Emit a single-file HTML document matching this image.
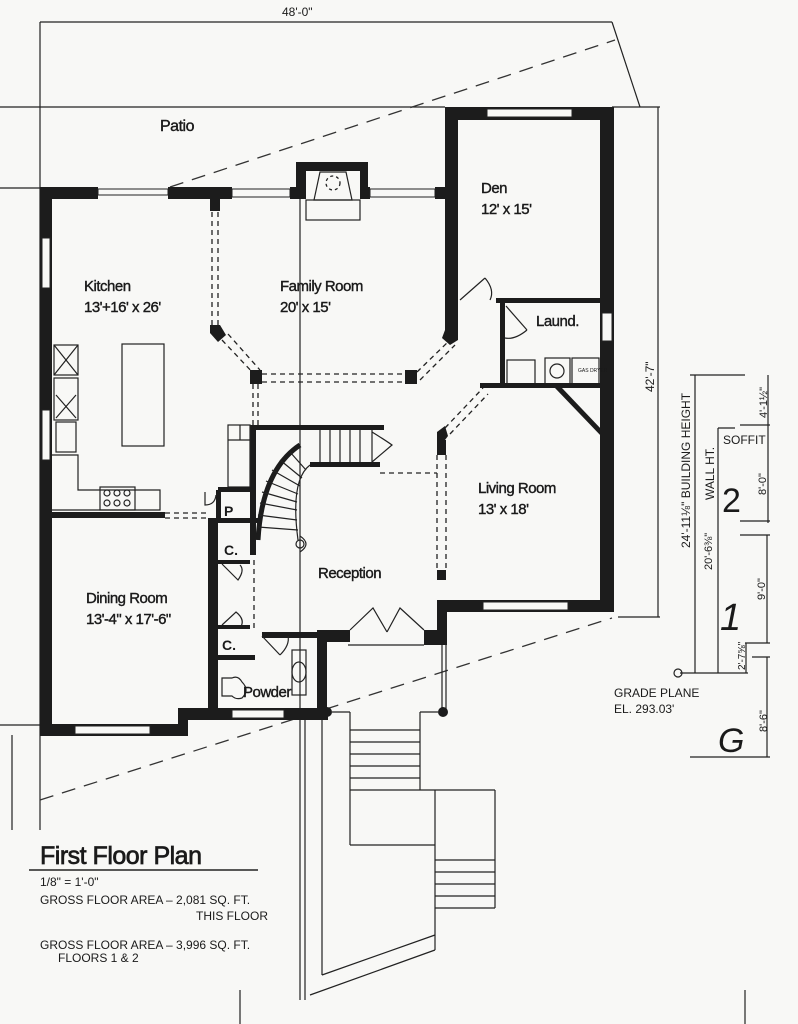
<!DOCTYPE html>
<html><head><meta charset="utf-8"><style>
html,body{margin:0;padding:0;background:#f8f8f6;}
svg{display:block;}
text{font-family:"Liberation Sans",Arial,sans-serif;fill:#1a1a1a;}
.w{fill:#1c1c1c;}
.l{stroke:#222;stroke-width:1.2;fill:none;}
.d{stroke:#222;stroke-width:1.3;fill:none;stroke-dasharray:5,4;}
.dl{stroke:#333;stroke-width:1.3;fill:none;stroke-dasharray:14,9;}
.win{fill:#f8f8f6;stroke:#222;stroke-width:1;}
.r{font-size:15px;letter-spacing:-0.5px;stroke:#1a1a1a;stroke-width:0.4;}
.s{font-size:12px;}
</style></head><body>
<svg width="798" height="1024" viewBox="0 0 798 1024">
<rect width="798" height="1024" fill="#f8f8f6"/>
<line class="l" x1="40" y1="22" x2="612" y2="22"/>
<text x="282" y="16" class="s">48'-0"</text>
<line class="l" x1="40" y1="22" x2="40" y2="830"/>
<line class="l" x1="612" y1="22" x2="640" y2="107"/>
<line class="l" x1="0" y1="107" x2="445" y2="107"/>
<line class="l" x1="0" y1="188" x2="40" y2="188"/>
<line class="l" x1="0" y1="725" x2="40" y2="725"/>
<line class="l" x1="12" y1="735" x2="12" y2="830"/>
<line class="dl" x1="170" y1="187" x2="615" y2="40"/>
<line class="dl" x1="40" y1="800" x2="612" y2="618"/>
<line class="l" x1="612" y1="107" x2="660" y2="107"/>
<line class="l" x1="658" y1="107" x2="658" y2="617"/>
<line class="l" x1="618" y1="617" x2="660" y2="617"/>
<text transform="translate(654,392) rotate(-90)" class="s">42'-7"</text>
<line class="l" x1="300" y1="199" x2="300" y2="1000"/>

<rect class="w" x="40" y="187" width="12" height="548"/>
<rect class="w" x="40" y="187" width="58" height="12"/>
<rect class="win" x="98" y="189" width="70" height="6"/>
<rect class="w" x="168" y="187" width="64" height="12"/>
<rect class="win" x="232" y="189" width="58" height="8"/>
<rect class="w" x="290" y="187" width="10" height="12"/>
<rect class="w" x="296" y="162" width="72" height="37"/>
<rect fill="#f8f8f6" x="306" y="171" width="54" height="28"/>
<polygon class="l" points="320,172 346,172 352,200 314,200"/>
<circle class="d" cx="333" cy="183" r="7" style="stroke-dasharray:3,3"/>
<rect class="l" x="306" y="200" width="54" height="20"/>
<rect class="w" x="360" y="187" width="10" height="12"/>
<rect class="win" x="370" y="189" width="65" height="8"/>
<rect class="w" x="435" y="187" width="12" height="12"/>
<rect class="w" x="445" y="107" width="13" height="190"/>
<rect class="w" x="445" y="107" width="169" height="13"/>
<rect class="win" x="487" y="109" width="85" height="8"/>
<rect class="w" x="600" y="107" width="14" height="505"/>
<rect class="win" x="602" y="313" width="10" height="28"/>
<line class="l" x1="460" y1="300" x2="485" y2="278"/>
<path class="l" d="M485,278 Q495,290 490,300"/>
<rect class="w" x="496" y="298" width="106" height="5"/>
<rect class="w" x="500" y="300" width="5" height="88"/>
<line class="l" x1="506" y1="306" x2="527" y2="330"/>
<path class="l" d="M527,330 Q515,340 505,338"/>
<rect class="l" x="507" y="360" width="28" height="25"/>
<rect class="l" x="545" y="358" width="25" height="27"/>
<circle class="l" cx="557" cy="371" r="7"/>
<rect class="l" x="572" y="358" width="27" height="27"/>
<text x="578" y="372" style="font-size:5px">GAS DRYER</text>
<rect class="w" x="480" y="383" width="122" height="5"/>
<polygon class="w" points="555,388 562,388 602,430 602,437"/>
<rect class="w" x="210" y="199" width="10" height="12"/>
<line class="d" x1="212" y1="212" x2="212" y2="325"/><line class="d" x1="218" y1="212" x2="218" y2="325"/>
<polygon class="w" points="210,325 220,325 226,335 218,342 210,333"/>
<line class="d" x1="222" y1="340" x2="255" y2="375"/><line class="d" x1="228" y1="334" x2="260" y2="370"/>
<rect class="w" x="250" y="370" width="12" height="14"/>
<line class="d" x1="262" y1="374" x2="405" y2="374"/><line class="d" x1="262" y1="382" x2="405" y2="382"/>
<rect class="w" x="405" y="370" width="12" height="14"/>
<line class="d" x1="417" y1="372" x2="450" y2="340"/><line class="d" x1="420" y1="380" x2="455" y2="345"/>
<polygon class="w" points="445,330 458,330 458,340 450,345 442,338"/>
<rect class="w" x="445" y="297" width="13" height="35"/>
<line class="d" x1="253" y1="384" x2="253" y2="425"/><line class="d" x1="258" y1="384" x2="258" y2="425"/>
<polygon class="w" points="437,432 445,426 448,436 445,440 437,440"/>
<line class="d" x1="445" y1="428" x2="483" y2="388"/><line class="d" x1="450" y1="434" x2="488" y2="394"/>
<rect class="w" x="437" y="440" width="9" height="15"/>
<line class="d" x1="437" y1="455" x2="437" y2="570"/><line class="d" x1="446" y1="455" x2="446" y2="570"/>
<rect class="w" x="437" y="570" width="9" height="10"/>
<rect class="w" x="437" y="600" width="177" height="12"/>
<rect class="win" x="483" y="602" width="85" height="8"/>
<rect class="w" x="437" y="600" width="10" height="45"/>
<rect class="w" x="424" y="630" width="20" height="15"/>
<rect class="w" x="325" y="630" width="25" height="12"/>
<polyline class="l" points="350,630 373,608 387,632"/>
<polyline class="l" points="424,630 400,608 387,632"/>
<line class="l" x1="348" y1="645" x2="424" y2="645"/>
<rect class="w" x="317" y="630" width="10" height="90"/>
<line class="l" x1="442" y1="645" x2="442" y2="715"/><line class="l" x1="446" y1="645" x2="446" y2="715"/>
<circle cx="327" cy="712" r="5" class="w"/><circle cx="443" cy="712" r="5" class="w"/>
<line class="l" x1="332" y1="712" x2="350" y2="712"/><line class="l" x1="420" y1="712" x2="438" y2="712"/>
<rect class="w" x="254" y="425" width="130" height="5"/>
<rect class="w" x="310" y="462" width="70" height="5"/>
<line class="l" x1="372" y1="430" x2="372" y2="462"/>
<g class="l">
<line x1="320" y1="430" x2="320" y2="462"/><line x1="330" y1="430" x2="330" y2="462"/><line x1="340" y1="430" x2="340" y2="462"/><line x1="350" y1="430" x2="350" y2="462"/><line x1="360" y1="430" x2="360" y2="462"/>
</g>
<path class="l" d="M372,432 Q385,440 392,445 L372,462"/>
<path d="M300,445 Q262,470 258,540" stroke="#1c1c1c" stroke-width="5" fill="none"/>
<path class="l" d="M310,465 Q290,480 298,540"/>
<g class="l">
<line x1="290" y1="452" x2="306" y2="470"/><line x1="280" y1="460" x2="302" y2="478"/><line x1="272" y1="470" x2="300" y2="486"/><line x1="266" y1="481" x2="298" y2="494"/><line x1="262" y1="492" x2="297" y2="502"/><line x1="260" y1="503" x2="297" y2="510"/><line x1="258" y1="515" x2="297" y2="520"/><line x1="258" y1="527" x2="298" y2="530"/>
</g>
<circle class="l" cx="300" cy="544" r="4"/><path class="l" d="M300,536 Q312,544 300,552"/>
<line class="d" x1="380" y1="473" x2="437" y2="473"/>
<rect class="w" x="250" y="425" width="6" height="130"/>
<rect class="l" x="228" y="425" width="22" height="62"/>
<line class="l" x1="240" y1="425" x2="240" y2="440"/><line class="l" x1="228" y1="440" x2="250" y2="440"/>
<rect class="w" x="218" y="487" width="36" height="5"/>
<rect class="w" x="216" y="490" width="5" height="30"/>
<text x="224" y="516" style="font-size:14px;font-weight:bold">P</text>
<path class="l" d="M205,492 L205,505 Q215,505 216,495"/>
<rect class="w" x="208" y="518" width="50" height="5"/>
<text x="224" y="555" style="font-size:14px;font-weight:bold">C.</text>
<rect class="w" x="215" y="560" width="35" height="4"/>
<path class="l" d="M222,564 L238,580 Q245,570 240,565"/>
<line class="d" x1="214" y1="582" x2="214" y2="620"/><line class="d" x1="254" y1="560" x2="254" y2="630"/>
<path class="l" d="M222,625 L236,612 Q246,620 240,628"/>
<rect class="w" x="215" y="625" width="35" height="4"/>
<text x="222" y="650" style="font-size:14px;font-weight:bold">C.</text>
<rect class="w" x="215" y="655" width="40" height="5"/>
<rect class="w" x="262" y="632" width="60" height="6"/>
<line class="l" x1="262" y1="636" x2="280" y2="655"/><path class="l" d="M280,655 Q290,645 288,636"/>
<rect class="l" x="292" y="650" width="14" height="45"/>
<ellipse class="l" cx="299" cy="672" rx="7" ry="10"/>
<path class="l" d="M222,678 L232,678 Q238,675 242,682 Q250,690 242,698 Q236,700 232,696 L222,696 Z"/>
<rect class="w" x="40" y="512" width="125" height="6"/>
<line class="d" x1="165" y1="513" x2="210" y2="513"/><line class="d" x1="165" y1="518" x2="210" y2="518"/>
<rect class="w" x="208" y="518" width="10" height="200"/>
<rect class="w" x="40" y="724" width="145" height="12"/>
<rect class="win" x="75" y="726" width="75" height="8"/>
<rect class="w" x="178" y="708" width="10" height="28"/>
<rect class="w" x="178" y="708" width="150" height="12"/>
<rect class="win" x="232" y="710" width="52" height="8"/>
<rect class="win" x="42" y="238" width="8" height="50"/>
<rect class="win" x="42" y="410" width="8" height="50"/>
<rect class="l" x="54" y="345" width="24" height="30"/><line class="l" x1="54" y1="345" x2="78" y2="375"/><line class="l" x1="78" y1="345" x2="54" y2="375"/>
<rect class="l" x="54" y="378" width="24" height="42"/><line class="l" x1="56" y1="395" x2="76" y2="418"/><line class="l" x1="76" y1="395" x2="56" y2="418"/>
<rect class="l" x="56" y="422" width="20" height="30"/>
<polyline class="l" points="52,455 78,455 78,490 160,490 160,510 52,510"/>
<rect class="l" x="100" y="487" width="35" height="23"/>
<circle class="l" cx="107" cy="493" r="3"/><circle class="l" cx="117" cy="493" r="3"/><circle class="l" cx="127" cy="493" r="3"/>
<circle class="l" cx="107" cy="503" r="3"/><circle class="l" cx="117" cy="503" r="3"/><circle class="l" cx="127" cy="503" r="3"/>
<rect class="l" x="122" y="344" width="42" height="102"/>
<line class="l" x1="305" y1="720" x2="305" y2="1000"/>
<line class="l" x1="322" y1="720" x2="322" y2="975"/>
<line class="l" x1="322" y1="975" x2="435" y2="935"/>
<line class="l" x1="310" y1="995" x2="435" y2="950"/>
<line class="l" x1="350" y1="712" x2="350" y2="845"/>
<line class="l" x1="420" y1="712" x2="420" y2="790"/>
<line class="l" x1="435" y1="790" x2="435" y2="950"/>
<g class="l">
<line x1="350" y1="730" x2="420" y2="730"/><line x1="350" y1="742" x2="420" y2="742"/><line x1="350" y1="754" x2="420" y2="754"/><line x1="350" y1="766" x2="420" y2="766"/><line x1="350" y1="778" x2="420" y2="778"/><line x1="350" y1="790" x2="495" y2="790"/>
<line x1="350" y1="845" x2="435" y2="845"/>
<line x1="495" y1="790" x2="495" y2="908"/><line x1="435" y1="860" x2="495" y2="860"/><line x1="435" y1="872" x2="495" y2="872"/><line x1="435" y1="884" x2="495" y2="884"/><line x1="435" y1="896" x2="495" y2="896"/><line x1="435" y1="908" x2="495" y2="908"/>
</g>
<line class="l" x1="240" y1="990" x2="240" y2="1024"/>
<line class="l" x1="745" y1="990" x2="745" y2="1024"/>

<text x="160" y="131" class="r" style="font-size:16px">Patio</text>
<text x="84" y="291" class="r">Kitchen</text>
<text x="84" y="312" class="r">13'+16' x 26'</text>
<text x="280" y="291" class="r">Family Room</text>
<text x="280" y="312" class="r">20' x 15'</text>
<text x="481" y="193" class="r">Den</text>
<text x="481" y="214" class="r">12' x 15'</text>
<text x="536" y="326" class="r">Laund.</text>
<text x="478" y="493" class="r">Living Room</text>
<text x="478" y="514" class="r">13' x 18'</text>
<text x="318" y="578" class="r">Reception</text>
<text x="86" y="603" class="r">Dining Room</text>
<text x="86" y="624" class="r">13'-4" x 17'-6"</text>
<text x="243" y="697" class="r">Powder</text>

<g class="l">
<line x1="690" y1="375" x2="745" y2="375"/><line x1="695" y1="375" x2="695" y2="673"/>
<line x1="718" y1="428" x2="718" y2="673"/><line x1="718" y1="428" x2="735" y2="428"/>
<line x1="768" y1="375" x2="768" y2="523"/><line x1="740" y1="425" x2="770" y2="425"/>
<line x1="740" y1="521" x2="770" y2="521"/>
<line x1="740" y1="535" x2="770" y2="535"/><line x1="767" y1="535" x2="767" y2="643"/>
<line x1="745" y1="643" x2="770" y2="643"/><line x1="746" y1="643" x2="746" y2="673"/>
<line x1="680" y1="673" x2="748" y2="673"/>
<line x1="752" y1="657" x2="770" y2="657"/><line x1="767" y1="657" x2="767" y2="757"/>
<line x1="690" y1="757" x2="770" y2="757"/>
<circle cx="678" cy="673" r="4"/>
</g>
<text transform="translate(690,548) rotate(-90)" class="s">24'-11⅛" BUILDING HEIGHT</text>
<text transform="translate(714,500) rotate(-90)" class="s">WALL HT.</text>
<text transform="translate(712,570) rotate(-90)" style="font-size:11px">20'-6⅜"</text>
<text x="723" y="444" class="s">SOFFIT</text>
<text x="722" y="512" style="font-size:34px">2</text>
<text x="720" y="630" style="font-size:38px;font-style:italic">1</text>
<text x="718" y="752" style="font-size:34px;font-style:italic">G</text>
<text transform="translate(767,418) rotate(-90)" style="font-size:11px">4'-1½"</text>
<text transform="translate(766,495) rotate(-90)" style="font-size:11px">8'-0"</text>
<text transform="translate(765,600) rotate(-90)" style="font-size:11px">9'-0"</text>
<text transform="translate(745,670) rotate(-90)" style="font-size:10px">2'-7⅝"</text>
<text transform="translate(767,732) rotate(-90)" style="font-size:11px">8'-6"</text>
<text x="614" y="697" class="s">GRADE PLANE</text>
<text x="614" y="713" class="s">EL. 293.03'</text>

<text x="40" y="864" style="font-size:25px;letter-spacing:-0.5px;stroke:#1a1a1a;stroke-width:0.7">First Floor Plan</text>
<line x1="29" y1="870" x2="258" y2="870" stroke="#222" stroke-width="1.5"/>
<text x="40" y="886" class="s">1/8" = 1'-0"</text>
<text x="40" y="904" class="s">GROSS FLOOR AREA  –  2,081 SQ. FT.</text>
<text x="196" y="920" class="s">THIS FLOOR</text>
<text x="40" y="949" class="s">GROSS FLOOR AREA  –  3,996 SQ. FT.</text>
<text x="58" y="962" class="s">FLOORS 1 &amp; 2</text>
</svg>
</body></html>
